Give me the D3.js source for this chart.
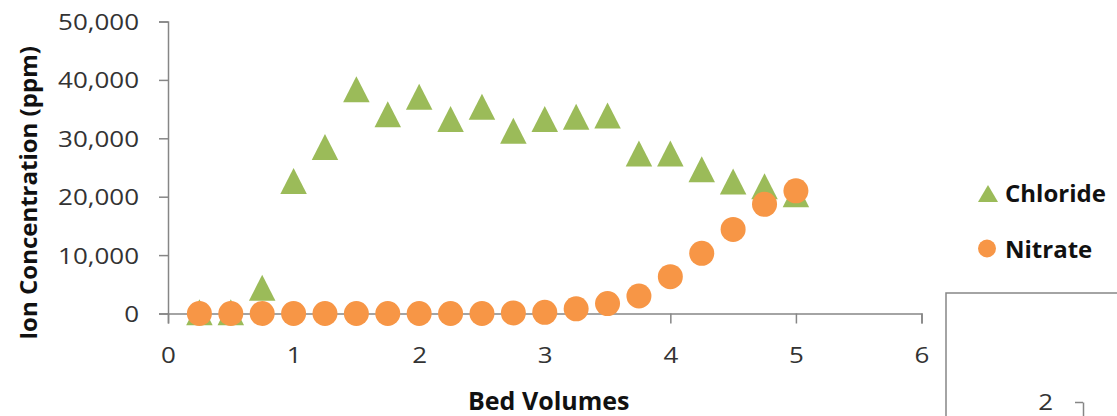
<!DOCTYPE html>
<html>
<head>
<meta charset="utf-8">
<script src="https://cdn.jsdelivr.net/npm/d3@7"></script>
<style>
  html, body { margin: 0; padding: 0; background: #fff; }
  svg { display: block; }
  text { font-family: "Open Sans", Lato, sans-serif; }
  .bold { font-family: "Open Sans", sans-serif; font-weight: 700; }
</style>
</head>
<body>
<svg id="chart" width="1117" height="416"></svg>
<script>
// ---- data ----
const bedVolumes = [0.25, 0.5, 0.75, 1.0, 1.25, 1.5, 1.75, 2.0, 2.25, 2.5, 2.75, 3.0, 3.25, 3.5, 3.75, 4.0, 4.25, 4.5, 4.75, 5.0];
const chloride   = [200, 200, 4400, 22700, 28500, 38400, 34100, 37100, 33300, 35400, 31300, 33300, 33700, 33900, 27400, 27400, 24700, 22600, 21800, 20400];
const nitrate    = [0, 0, 0, 0, 0, 0, 0, 0, 0, 0, 100, 200, 800, 1700, 3000, 6300, 10300, 14400, 18700, 21000];
const seriesNames = ["Chloride", "Nitrate"];
const xTicks = [0, 1, 2, 3, 4, 5, 6];
const yTicks = [0, 10000, 20000, 30000, 40000, 50000];
const xTitle = "Bed Volumes";
const yTitle = "Ion Concentration (ppm)";
const fragmentTicks = [2]; // tick of the partly-visible neighbouring chart

// ---- layout ----
const svg = d3.select("#chart");
const axisColor = "#868686";
const green = "#9BBB59";
const orange = "#F79646";
const labelColor = "#333333";
const stretch = 1.18;

const x = d3.scaleLinear().domain([0, 6]).range([168, 921.5]);
const y = d3.scaleLinear().domain([0, 50000]).range([313.5, 21.5]);

// y axis
const yAxis = svg.append("g").attr("transform", `translate(${x(0)},0)`)
  .call(d3.axisLeft(y).tickValues(yTicks).tickSize(9).tickSizeOuter(9).tickPadding(0)
        .tickFormat(d3.format(",")));
yAxis.selectAll("path, line").attr("stroke", axisColor).attr("stroke-width", 1.5);
yAxis.selectAll("text")
  .attr("x", -29 / stretch).attr("dy", "0.36em")
  .attr("transform", `scale(${stretch},1)`)
  .attr("fill", labelColor).style("font-size", "22px");

// x axis
const xAxis = svg.append("g").attr("transform", `translate(0,${y(0)})`)
  .call(d3.axisBottom(x).tickValues(xTicks).tickSize(10).tickSizeOuter(10).tickPadding(0)
        .tickFormat(d3.format("d")));
xAxis.selectAll("path, line").attr("stroke", axisColor).attr("stroke-width", 1.5);
xAxis.selectAll("text")
  .attr("x", 0).attr("y", 49.5).attr("dy", 0)
  .attr("transform", `scale(${stretch},1)`)
  .attr("fill", labelColor).style("font-size", "22px");

// titles
svg.append("text").attr("class", "bold")
  .attr("transform", `translate(37,193) rotate(-90)`)
  .attr("text-anchor", "middle")
  .style("font-size", "24px").attr("fill", "#111")
  .text(yTitle);
svg.append("text").attr("class", "bold")
  .attr("x", (x(0) + x(6)) / 2 + 4).attr("y", 410)
  .attr("text-anchor", "middle")
  .style("font-size", "25px").attr("fill", "#111")
  .text(xTitle);

// markers
const triPath = (w, h) => `M0,${-h / 2}L${w / 2},${h / 2}L${-w / 2},${h / 2}Z`;
const chlorideData = bedVolumes.map((b, i) => ({ b, v: chloride[i] }));
const nitrateData = bedVolumes.map((b, i) => ({ b, v: nitrate[i] }));

svg.append("g").selectAll("path").data(chlorideData).join("path")
  .attr("transform", d => `translate(${x(d.b)},${y(d.v)})`)
  .attr("d", triPath(26.5, 26))
  .attr("fill", green);

svg.append("g").selectAll("circle").data(nitrateData).join("circle")
  .attr("cx", d => x(d.b)).attr("cy", d => y(d.v)).attr("r", 12.5)
  .attr("fill", orange);

// legend
const legend = svg.append("g");
legend.append("path").attr("transform", "translate(988,193.5)").attr("d", triPath(20, 17)).attr("fill", green);
legend.append("circle").attr("cx", 987).attr("cy", 248.5).attr("r", 9).attr("fill", orange);
legend.selectAll("text").data(seriesNames).join("text").attr("class", "bold")
  .attr("x", 1005).attr("y", (d, i) => 202 + i * 56)
  .style("font-size", "24px").attr("fill", "#111")
  .text(d => d);

// fragment of neighbouring chart (bottom right)
svg.append("rect").attr("x", 946).attr("y", 293).attr("width", 200).attr("height", 200)
  .attr("fill", "#fff").attr("stroke", axisColor).attr("stroke-width", 1.5);
const fy = d3.scaleLinear().domain([2, 1]).range([402, 470]);
const fAxis = svg.append("g").attr("transform", "translate(1083,0)")
  .call(d3.axisLeft(fy).tickValues(fragmentTicks).tickSize(8).tickSizeOuter(0).tickPadding(0)
        .tickFormat(d3.format("d")));
fAxis.selectAll("path, line").attr("stroke", axisColor).attr("stroke-width", 1.5);
fAxis.selectAll("text").attr("x", -30 / stretch).attr("dy", "0.36em")
  .attr("transform", `scale(${stretch},1)`)
  .attr("fill", labelColor).style("font-size", "22px");
</script>
</body>
</html>
